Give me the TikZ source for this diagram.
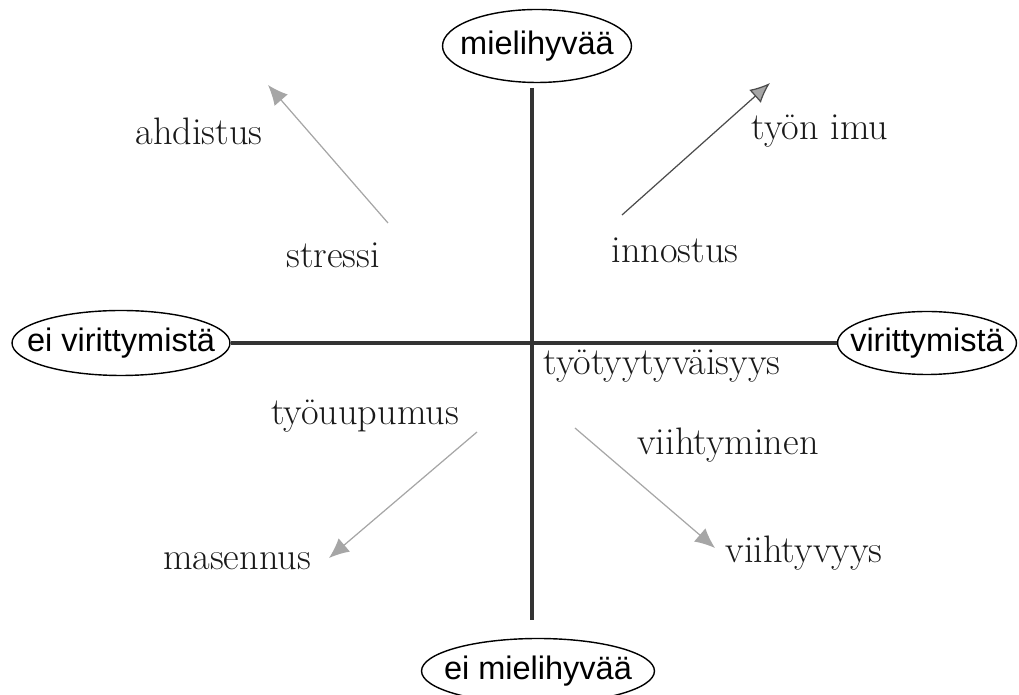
\documentclass[tikz,border=0pt]{standalone}
\usepackage{fontspec}
\newfontfamily\axfont{Liberation Sans}
\usetikzlibrary{shapes.geometric,arrows.meta,positioning}
\tikzset{pole/.style={ellipse,draw=black,line width=0.8pt,inner xsep=-0.9cm,inner ysep=0pt,font=\axfont\fontsize{18.5}{20}\selectfont},
         state/.style={inner sep=0pt,anchor=base,font=\fontsize{21.8}{26}\selectfont,text=black!90},
         axis line/.style={line width=2pt,black!80},
         shift arrow/.style={line width=0.7pt,black!35,-{Latex[length=4mm,width=3.5mm,fill=black!35]}},
}
\begin{document}
\begin{tikzpicture}[x=0.02cm,y=-0.02cm]
\useasboundingbox (0,0) rectangle (1019,695);

% poles of the two axes
\node[pole,minimum width=3.78cm,minimum height=1.46cm] (up) at (537,46) {mielihyvää};
\node[pole,minimum width=4.66cm,minimum height=1.3cm] (down) at (538,671) {ei mielihyvää};
\node[pole,minimum width=4.36cm,minimum height=1.3cm] (left) at (121,343) {ei virittymistä};
\node[pole,minimum width=3.58cm,minimum height=1.26cm] (right) at (927,343) {virittymistä};

\coordinate (vtop) at (532,88);
\coordinate (vbot) at (532,620);
\draw[axis line] (vtop) -- (vbot);
\draw[axis line] (left.east) -- (right.west);

% states
\node[state] (ahd) at (199,145) {ahdistus};
\node[state] (str) at (333,268) {stressi};
\node[state] (inn) at (675,263) {innostus};
\node[state] (imu) at (820,140) {työn imu};
\node[state] (tyy) at (662,375) {työtyytyväisyys};
\node[state] (uup) at (365,425) {työuupumus};
\node[state] (vmi) at (728,455) {viihtyminen};
\node[state] (mas) at (237,570) {masennus};
\node[state] (vvy) at (804,563) {viihtyvyys};

% shifts
\coordinate (a1) at (388,223); \coordinate (a2) at (268,85);
\coordinate (b1) at (622,215); \coordinate (b2) at (770,83);
\coordinate (c1) at (477,432); \coordinate (c2) at (329,558);
\coordinate (d1) at (575,428); \coordinate (d2) at (715,548);
\draw[shift arrow] (a1) -- (a2);
\draw[shift arrow,black!70] (b1) -- (b2);
\draw[shift arrow] (c1) -- (c2);
\draw[shift arrow] (d1) -- (d2);
\end{tikzpicture}
\end{document}
